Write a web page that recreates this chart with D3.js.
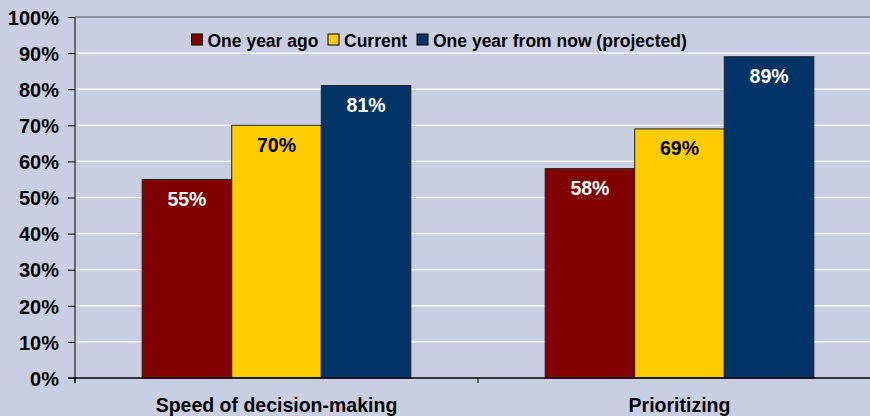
<!DOCTYPE html>
<html>
<head>
<meta charset="utf-8">
<script src="https://cdn.jsdelivr.net/npm/d3@7"></script>
<style>
  body { margin: 0; background: #c9cee2; }
  svg { display: block; font-family: "Liberation Sans", Arial, sans-serif; font-weight: bold; }
</style>
</head>
<body>
<div id="chart"></div>
<script>
/* data */
var categories = ["Speed of decision-making", "Prioritizing"];
var seriesNames = ["One year ago", "Current", "One year from now (projected)"];
var oneYearAgo = [55, 58];
var current = [70, 69];
var oneYearFromNow = [81, 89];
var yTicks = [0, 10, 20, 30, 40, 50, 60, 70, 80, 90, 100];

var colors = ["#800000", "#ffcc00", "#003366"];
var labelColors = ["#ffffff", "#000000", "#ffffff"];

var width = 870, height = 416;
var margin = { top: 17, right: -11, bottom: 38, left: 75 };

var svg = d3.select("#chart")
            .append("svg")
            .attr("width", width)
            .attr("height", height);

svg.append("rect")
   .attr("width", width).attr("height", height)
   .attr("fill", "#c9cee2");

var y = d3.scaleLinear()
          .domain([0, 100])
          .range([height - margin.bottom, margin.top]);

var x0 = d3.scaleBand()
           .domain(categories)
           .range([margin.left, width - margin.right]);

var x1 = d3.scaleBand()
           .domain(seriesNames)
           .range([0, x0.bandwidth()])
           .paddingOuter(0.75);

/* gridlines */
svg.selectAll(".grid")
   .data(yTicks.filter(function (d) { return d > 0 && d < 100; }))
   .enter()
   .append("line")
   .attr("x1", margin.left).attr("x2", width)
   .attr("y1", function (d) { return y(d); })
   .attr("y2", function (d) { return y(d); })
   .style("stroke", "#ffffff")
   .style("stroke-width", 1.2);

/* top border */
svg.append("line")
   .attr("x1", margin.left).attr("x2", width)
   .attr("y1", y(100)).attr("y2", y(100))
   .style("stroke", "#555555");

/* bars */
var rows = categories.map(function (c, i) {
  return [oneYearAgo[i], current[i], oneYearFromNow[i]];
});

var groups = svg.selectAll(".group")
   .data(rows)
   .enter()
   .append("g")
   .attr("transform", function (d, i) { return "translate(" + x0(categories[i]) + ",0)"; });

groups.selectAll("rect")
   .data(function (d) { return d; })
   .enter()
   .append("rect")
   .attr("x", function (d, j) { return x1(seriesNames[j]); })
   .attr("y", function (d) { return y(d); })
   .attr("width", x1.bandwidth())
   .attr("height", function (d) { return y(0) - y(d); })
   .style("fill", function (d, j) { return colors[j]; })
   .style("stroke", "#222222")
   .style("stroke-width", 1);

groups.selectAll("text")
   .data(function (d) { return d; })
   .enter()
   .append("text")
   .attr("x", function (d, j) { return x1(seriesNames[j]) + x1.bandwidth() / 2; })
   .attr("y", function (d) { return y(d) + 26.5; })
   .attr("text-anchor", "middle")
   .style("font-size", "19.5px")
   .style("fill", function (d, j) { return labelColors[j]; })
   .text(function (d) { return d + "%"; });

/* y axis */
var yAxis = svg.append("g")
   .attr("transform", "translate(" + margin.left + ",0)")
   .call(d3.axisLeft(y).tickValues(yTicks).tickSize(7).tickPadding(9)
           .tickFormat(function (d) { return d + "%"; }));
yAxis.select(".domain").attr("d", "M0," + y(100) + "V" + (y(0) + 5)).style("stroke", "#000");
yAxis.selectAll(".tick line").style("stroke", "#000");
yAxis.selectAll(".tick text")
     .style("font-size", "20px").style("fill", "#000")
     .attr("dy", "0.36em");

/* x axis */
var xAxisG = svg.append("g");
xAxisG.append("line")
   .attr("x1", margin.left - 7).attr("x2", width)
   .attr("y1", y(0)).attr("y2", y(0))
   .style("stroke", "#000").style("stroke-width", 1.5);
xAxisG.selectAll(".sep")
   .data(categories)
   .enter()
   .append("line")
   .attr("x1", function (d) { return x0(d); })
   .attr("x2", function (d) { return x0(d); })
   .attr("y1", y(0)).attr("y2", y(0) + 5)
   .style("stroke", "#000");
xAxisG.selectAll(".cat")
   .data(categories)
   .enter()
   .append("text")
   .attr("x", function (d) { return x0(d) + x0.bandwidth() / 2; })
   .attr("y", y(0) + 34)
   .attr("text-anchor", "middle")
   .style("font-size", "19.5px")
   .text(function (d) { return d; });

/* legend */
var legendX = [191.5, 328, 417];
var legend = svg.selectAll(".legend")
   .data(seriesNames)
   .enter()
   .append("g")
   .attr("transform", function (d, i) { return "translate(" + legendX[i] + ",34)"; });
legend.append("rect")
   .attr("width", 11).attr("height", 11)
   .style("fill", function (d, i) { return colors[i]; })
   .style("stroke", "#000");
legend.append("text")
   .attr("x", 16).attr("y", 12.5)
   .style("font-size", "17.5px")
   .text(function (d) { return d; });
</script>
</body>
</html>
